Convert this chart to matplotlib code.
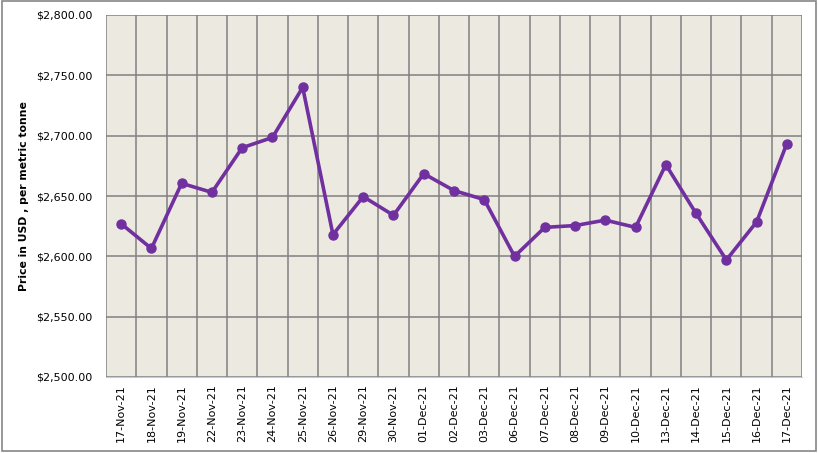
import matplotlib.pyplot as plt
from matplotlib.ticker import FuncFormatter, MultipleLocator

# dates and prices (USD per metric tonne)
dates = ['17-Nov-21', '18-Nov-21', '19-Nov-21', '22-Nov-21', '23-Nov-21', '24-Nov-21',
         '25-Nov-21', '26-Nov-21', '29-Nov-21', '30-Nov-21', '01-Dec-21', '02-Dec-21',
         '03-Dec-21', '06-Dec-21', '07-Dec-21', '08-Dec-21', '09-Dec-21', '10-Dec-21',
         '13-Dec-21', '14-Dec-21', '15-Dec-21', '16-Dec-21', '17-Dec-21']
prices = [2627, 2606.5, 2660.5, 2653, 2690, 2698.5,
          2740, 2618, 2649.5, 2634, 2668.5, 2654.5,
          2647, 2600, 2624, 2625.5, 2630, 2624,
          2676, 2635.5, 2597, 2628.5, 2693.5]

fig = plt.figure(figsize=(8.18, 4.53), dpi=100)
ax = fig.add_axes([106 / 818, 1 - 377 / 453, 696 / 818, 362 / 453])
ax.set_facecolor('#eceae0')

x = range(len(dates))
ax.plot(x, prices, color='#7030a0', lw=2.6, marker='o', ms=6.5, zorder=3)

ax.set_xlim(-0.5, len(dates) - 0.5)
ax.set_ylim(2500, 2800)
ax.yaxis.set_major_locator(MultipleLocator(50))
ax.yaxis.set_major_formatter(FuncFormatter(lambda v, p: '${:,.2f}'.format(v)))
ax.set_xticks(list(x))
ax.set_xticklabels(dates, rotation=90, fontsize=8)
ax.tick_params(axis='y', labelsize=8, length=0, pad=10)
ax.tick_params(axis='x', length=0, pad=5)

# vertical lines between categories, horizontal at each 50
for i in range(len(dates) + 1):
    ax.axvline(i - 0.5, color='#808080', lw=1.1, zorder=1)
ax.grid(axis='y', color='#808080', lw=1.1, zorder=1)
ax.set_axisbelow(True)

for s in ['top', 'right', 'left']:
    ax.spines[s].set_visible(False)
ax.spines['bottom'].set_color('#b9cde5')

ax.set_ylabel('Price in USD , per metric tonne', fontsize=7.8, fontweight='bold', labelpad=5)

# outer frame
fig.patches.append(plt.Rectangle((0.002, 0.004), 0.995, 0.993, transform=fig.transFigure,
                                 fill=False, edgecolor='#868686', lw=1.2))

plt.savefig('out.png', dpi=100)
